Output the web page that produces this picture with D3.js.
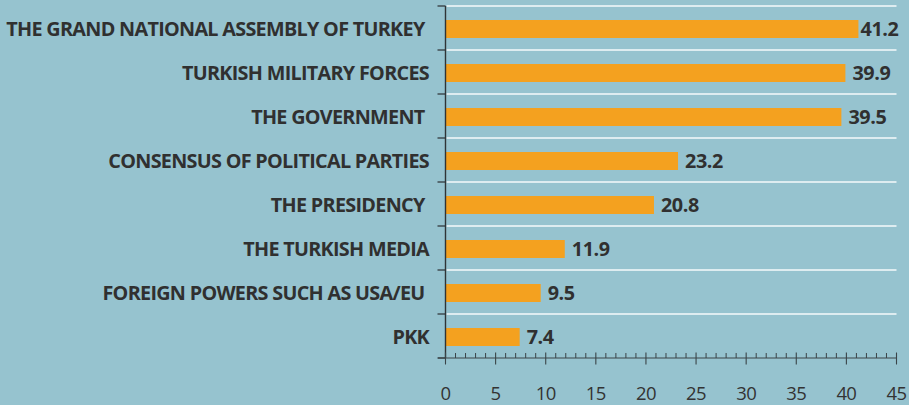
<!DOCTYPE html>
<html>
<head>
<meta charset="utf-8">
<script src="https://cdn.jsdelivr.net/npm/d3@7"></script>
<style>
  html, body { margin: 0; padding: 0; background: #96c3cf; }
  svg { display: block; }
  text { font-family: "Open Sans", "Noto Sans", sans-serif; }
</style>
</head>
<body>
<svg id="chart" width="909" height="405"></svg>
<script>
const categories = [
  "THE GRAND NATIONAL ASSEMBLY OF TURKEY ",
  "TURKISH MILITARY FORCES",
  "THE GOVERNMENT ",
  "CONSENSUS OF POLITICAL PARTIES",
  "THE PRESIDENCY ",
  "THE TURKISH MEDIA",
  "FOREIGN POWERS SUCH AS USA/EU ",
  "PKK"
];
const values = [41.2, 39.9, 39.5, 23.2, 20.8, 11.9, 9.5, 7.4];
const xTicks = [0, 5, 10, 15, 20, 25, 30, 35, 40, 45];

(function () {
const svg = d3.select("#chart");
const W = 909, H = 405;
const mLeft = 445.5, mRight = 896.5, mTop = 6, mBottom = 358;

svg.append("rect").attr("width", W).attr("height", H).attr("fill", "#96c3cf");

const x = d3.scaleLinear().domain([0, 45]).range([mLeft, mRight]);
const rows = d3.scaleBand().domain(categories).range([mTop, mBottom]).padding(0);
const barH = 18;
const barOff = 14;

const bounds = categories.map(c => rows(c));
svg.append("g").selectAll("line").data(bounds).join("line")
  .attr("x1", mLeft + 1).attr("x2", mRight)
  .attr("y1", d => d).attr("y2", d => d)
  .attr("stroke", "#f4fafb").attr("stroke-width", 1.6);

svg.append("g").selectAll("line").data(bounds.concat([mBottom])).join("line")
  .attr("x1", mLeft - 8).attr("x2", mLeft)
  .attr("y1", d => d).attr("y2", d => d)
  .attr("stroke", "#3a4448").attr("stroke-width", 1.4);

svg.append("g").selectAll("rect").data(values).join("rect")
  .attr("x", x(0))
  .attr("y", (d, i) => rows(categories[i]) + barOff)
  .attr("width", d => x(d) - x(0))
  .attr("height", barH)
  .attr("fill", "#f4a11f");

svg.append("line")
  .attr("x1", mLeft).attr("x2", mLeft).attr("y1", mTop).attr("y2", mBottom)
  .attr("stroke", "#2f3436").attr("stroke-width", 1.4);

svg.append("g").selectAll("text").data(categories).join("text")
  .attr("x", 429)
  .attr("y", d => rows(d) + barOff + barH / 2)
  .attr("dy", "0.36em")
  .attr("text-anchor", "end")
  .attr("xml:space", "preserve")
  .style("white-space", "pre")
  .attr("font-size", 19.8)
  .attr("font-weight", 700)
  .attr("letter-spacing", -0.7)
  .attr("fill", "#303030")
  .text(d => d);

const vg = svg.append("g");
values.forEach((v, i) => {
  const t = vg.append("text")
    .attr("y", rows(categories[i]) + barOff + barH / 2)
    .attr("dy", "0.36em")
    .attr("font-size", 19.8)
    .attr("font-weight", 700)
    .attr("letter-spacing", -0.4)
    .attr("fill", "#303030")
    .text(v.toFixed(1));
  const w = t.node().getComputedTextLength();
  t.attr("x", Math.min(x(v) + 7, mRight + 2 - w));
});

const ax = svg.append("g");
ax.append("line")
  .attr("x1", mLeft - 7.5).attr("x2", mRight + 0.5)
  .attr("y1", mBottom).attr("y2", mBottom)
  .attr("stroke", "#3a4448").attr("stroke-width", 1.2);
const minor = d3.range(0, 46, 1).filter(d => d % 5 !== 0);
ax.selectAll("line.minor").data(minor).join("line").attr("class", "minor")
  .attr("x1", d => x(d)).attr("x2", d => x(d))
  .attr("y1", mBottom - 5).attr("y2", mBottom)
  .attr("stroke", "#3a4448").attr("stroke-width", 1);
ax.selectAll("line.major").data(xTicks).join("line").attr("class", "major")
  .attr("x1", d => x(d)).attr("x2", d => x(d))
  .attr("y1", mBottom - 5.5).attr("y2", mBottom + 6.5)
  .attr("stroke", "#3a4448").attr("stroke-width", 1.1);
ax.selectAll("text").data(xTicks).join("text")
  .attr("x", d => x(d))
  .attr("y", 393)
  .attr("dy", "0.36em")
  .attr("text-anchor", "middle")
  .attr("font-size", 18.5)
  .attr("letter-spacing", -0.6)
  .attr("fill", "#333333")
  .text(d => d);
})();
</script>
</body>
</html>
